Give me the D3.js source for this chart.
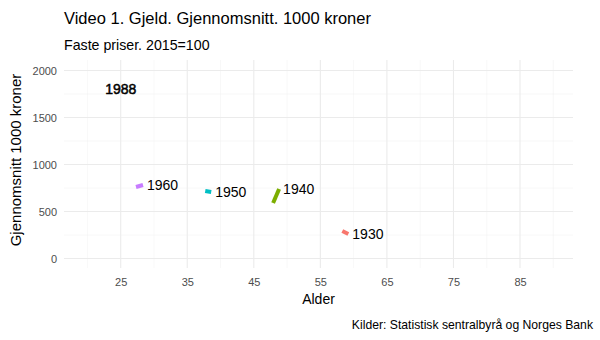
<!DOCTYPE html>
<html><head><meta charset="utf-8">
<script src="https://cdn.jsdelivr.net/npm/d3@7"></script>
<style>body{margin:0;background:#fff;} svg{display:block;font-family:"Liberation Sans",Arial,sans-serif;}</style>
</head><body>
<script>
const cohorts = ["1930","1940","1950","1960"];
const colors = ["#F8766D","#7CAE00","#00BFC4","#C77CFF"];
const ageStart = [58.3, 47.9, 37.7, 27.3];
const ageEnd = [59.2, 48.8, 38.6, 28.35];
const debtStart = [293, 590, 718, 761];
const debtEnd = [261, 739, 707, 782];
const yearLabel = "1988";
const yearPos = [25, 1800];
const xTicks = [25,35,45,55,65,75,85];
const xMinor = [20,30,40,50,60,70,80,90];
const yTicks = [0,500,1000,1500,2000];
const yMinor = [250,750,1250,1750];

const W=600,H=340;
const svg=d3.select("body").append("svg").attr("width",W).attr("height",H);
const L=64,R=573,T=60,B=268;
const x=d3.scaleLinear().domain([16.48,92.96]).range([L,R]);
const y=d3.scaleLinear().domain([-101,2112]).range([B,T]);

const g=svg.append("g");
g.selectAll(".xm").data(xMinor).join("line").attr("x1",d=>x(d)).attr("x2",d=>x(d)).attr("y1",T).attr("y2",B).attr("stroke","#F2F2F2").attr("stroke-width",0.55);
g.selectAll(".ym").data(yMinor).join("line").attr("y1",d=>y(d)).attr("y2",d=>y(d)).attr("x1",L).attr("x2",R).attr("stroke","#F2F2F2").attr("stroke-width",0.55);
g.selectAll(".xg").data(xTicks).join("line").attr("x1",d=>x(d)).attr("x2",d=>x(d)).attr("y1",T).attr("y2",B).attr("stroke","#EBEBEB").attr("stroke-width",1.1);
g.selectAll(".yg").data(yTicks).join("line").attr("y1",d=>y(d)).attr("y2",d=>y(d)).attr("x1",L).attr("x2",R).attr("stroke","#EBEBEB").attr("stroke-width",1.1);

const xAxis=svg.append("g").attr("transform",`translate(0,${B})`).call(d3.axisBottom(x).tickValues(xTicks).tickSize(0).tickPadding(10));
const yAxis=svg.append("g").attr("transform",`translate(${L},0)`).call(d3.axisLeft(y).tickValues(yTicks).tickSize(0).tickPadding(7).tickFormat(d3.format("d")));
[xAxis,yAxis].forEach(a=>{a.select(".domain").remove();a.selectAll("text").attr("fill","#4D4D4D").style("font-size","11px").style("font-family","Liberation Sans, Arial, sans-serif");});

const data=cohorts.map((c,i)=>({c,col:colors[i],pts:[[ageStart[i],debtStart[i]],[ageEnd[i],debtEnd[i]]]}));
const line=d3.line().x(d=>x(d[0])).y(d=>y(d[1]));
svg.selectAll(".seg").data(data).join("path").attr("d",d=>line(d.pts)).attr("fill","none").attr("stroke",d=>d.col).attr("stroke-width",4).attr("stroke-linecap","butt");
svg.selectAll(".lab").data(data).join("text").attr("x",d=>x(d.pts[1][0])+4).attr("y",d=>y(d.pts[1][1])).attr("dy","5").text(d=>d.c).attr("font-size","14px").attr("fill","#000");

svg.append("text").attr("x",x(yearPos[0])).attr("y",y(yearPos[1])).attr("dy","5").attr("text-anchor","middle").attr("font-size","14px").attr("stroke","#000").attr("stroke-width",0.5).text(yearLabel);

svg.append("text").attr("x",64).attr("y",24).attr("font-size","16.5px").text("Video 1. Gjeld. Gjennomsnitt. 1000 kroner");
svg.append("text").attr("x",64).attr("y",50).attr("font-size","14.2px").text("Faste priser. 2015=100");
svg.append("text").attr("transform","translate(21,160) rotate(-90)").attr("text-anchor","middle").attr("font-size","15px").text("Gjennomsnitt 1000 kroner");
svg.append("text").attr("x",(L+R)/2).attr("y",304).attr("text-anchor","middle").attr("font-size","14px").text("Alder");
svg.append("text").attr("x",593).attr("y",329).attr("text-anchor","end").attr("font-size","12.2px").text("Kilder: Statistisk sentralbyrå og Norges Bank");
</script>
</body></html>
